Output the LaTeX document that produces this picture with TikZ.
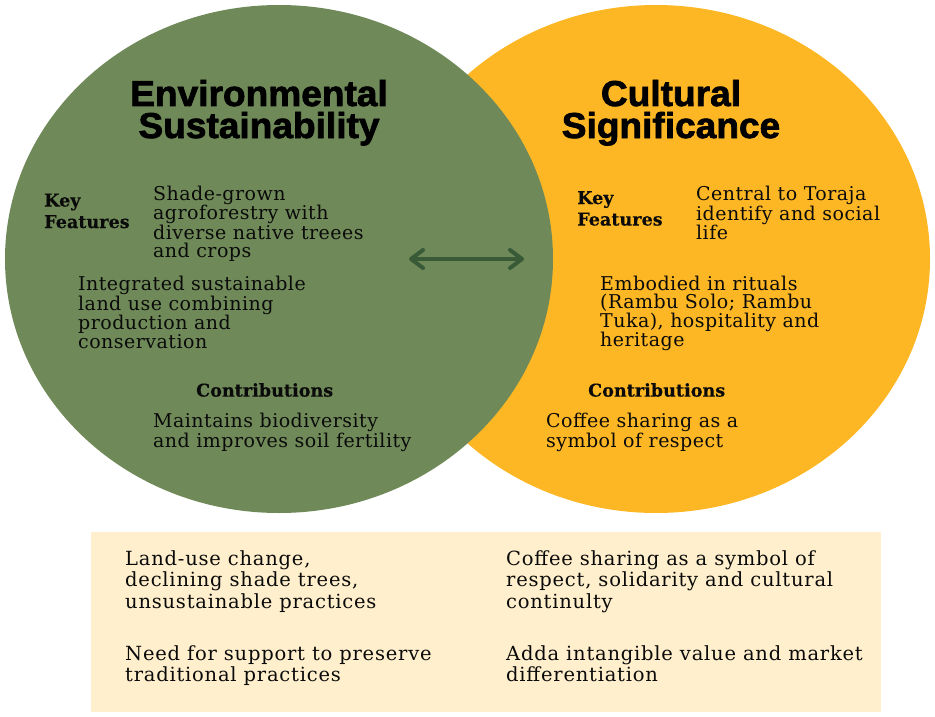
\documentclass[tikz,border=0pt]{standalone}
\usepackage{fontspec}
\usetikzlibrary{arrows.meta,shapes.geometric}
\setmainfont{DejaVu Serif}
\newfontfamily\bodyfont[LetterSpace=2.5]{DejaVu Serif}
\newfontfamily\headfont[BoldFeatures={FakeBold=0.3}]{DejaVu Serif}
\newfontfamily\boxfont[LetterSpace=4]{DejaVu Serif}
\newfontfamily\titlefont[BoldFeatures={FakeBold=2,FakeStretch=1.03}]{Liberation Sans}
\definecolor{envgreen}{RGB}{111,138,88}
\definecolor{culyellow}{RGB}{253,183,36}
\definecolor{boxbg}{RGB}{255,239,204}
\definecolor{arrowgreen}{RGB}{56,90,55}
\definecolor{ink}{RGB}{10,10,10}
\begin{document}
\begin{tikzpicture}[x=1pt,y=-1pt,
  blob/.style={ellipse, inner sep=0pt, minimum width=548pt, minimum height=508pt},
  body/.style={anchor=north west, inner sep=0pt, align=left, text=ink,
    font=\bodyfont\fontsize{19}{18.2}\selectfont},
  head/.style={anchor=north west, inner sep=0pt, align=left, text=ink,
    font=\headfont\bfseries\fontsize{17.6}{21.5}\selectfont},
  boxtext/.style={anchor=north west, inner sep=0pt, align=left, text=ink,
    font=\boxfont\fontsize{19.5}{21.7}\selectfont},
  title/.style={anchor=base, inner sep=0pt, text=black,
    font=\titlefont\bfseries\fontsize{36}{32}\selectfont},
  link/.style={draw=arrowgreen, line width=4pt, line cap=round, line join=round,
    {Straight Barb[length=12pt,width=18pt,line cap=round,line join=round]}-{Straight Barb[length=12pt,width=18pt,line cap=round,line join=round]}}
]
\useasboundingbox (0,0) rectangle (935,717);
% circles
\node (culture) [blob, fill=culyellow] at (656,259) {};
\node (environment) [blob, fill=envgreen] at (279,259) {};
% arrow
\coordinate (al) at (409,259);
\coordinate (ar) at (524,259);
\draw[link] (al) -- (ar);
% titles
\node (envtitle1) [title] at (259,106) {Environmental};
\node (envtitle2) [title] at (259,138) {Sustainability};
\node (cultitle1) [title] at (671,106) {Cultural};
\node (cultitle2) [title] at (671,138) {Significance};
% left circle
\node (envkey) [head] at (44,193.5) {Key\\Features};
\node (envkf1) [body] at (153,185.5) {Shade-grown\\agroforestry with\\diverse native treees\\and crops};
\node (envkf2) [body] at (78,276) {Integrated sustainable\\land use combining\\production and\\conservation};
\node (envcon) [head] at (196,383) {Contributions};
\node (envcon1) [body] at (153,413) {Maintains biodiversity\\and improves soil fertility};
% right circle
\node (culkey) [head] at (577,191) {Key\\Features};
\node (culkf1) [body] at (696,186) {Central to Toraja\\identify and social\\life};
\node (culkf2) [body] at (600,276) {Embodied in rituals\\(Rambu Solo; Rambu\\Tuka), hospitality and\\heritage};
\node (culcon) [head] at (588,383) {Contributions};
\node (culcon1) [body] at (546,413) {Coffee sharing as a\\symbol of respect};
% bottom box
\node (box) [fill=boxbg, anchor=north west, inner sep=0pt, minimum width=790pt, minimum height=180pt] at (91,532) {};
\node (bl1) [boxtext] at (125,550) {Land-use change,\\declining shade trees,\\unsustainable practices};
\node (bl2) [boxtext] at (125,645) {Need for support to preserve\\traditional practices};
\node (br1) [boxtext] at (506,550) {Coffee sharing as a symbol of\\respect, solidarity and cultural\\continulty};
\node (br2) [boxtext] at (506,645) {Adda intangible value and market\\differentiation};
\end{tikzpicture}
\end{document}
